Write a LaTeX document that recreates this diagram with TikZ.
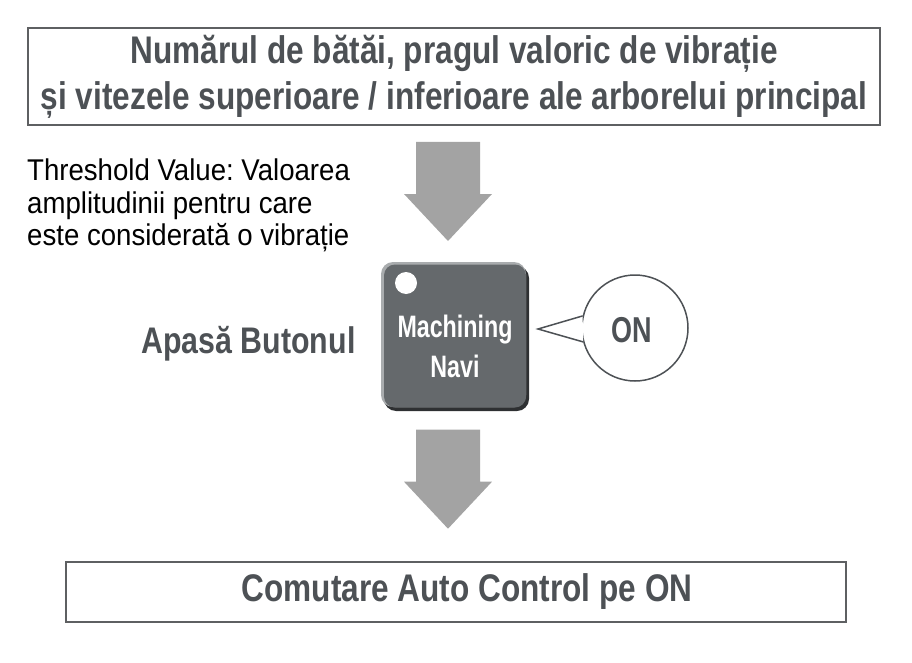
\documentclass[tikz,border=0pt]{standalone}
\usepackage{fontspec}
\setmainfont{Liberation Sans}
\newfontfamily\condfont[FakeStretch=0.82]{Liberation Sans}
\newfontfamily\narrowfont[FakeStretch=0.75]{Liberation Sans}
\newfontfamily\notefont[FakeStretch=0.92]{Liberation Sans}
\usetikzlibrary{positioning}
\definecolor{textgray}{HTML}{4D5155}
\definecolor{framegray}{HTML}{5E6062}
\definecolor{arrowgray}{HTML}{A3A3A3}
\definecolor{buttongray}{HTML}{65696C}
\definecolor{rimgray}{HTML}{A9ACAE}
\definecolor{shadowgray}{HTML}{2E3032}
\frenchspacing
\tikzset{
	framebox/.style={draw=framegray, line width=2pt, fill=white, inner sep=0pt},
	headtext/.style={font=\condfont\bfseries\fontsize{38.5}{46}\selectfont, text=textgray},
	bigarrow/.pic={\fill[arrowgray] (-32,0) -- (32,0) -- (32,52) -- (44,52) -- (0,99) -- (-44,52) -- (-32,52) -- cycle;}
}
\begin{document}
\begin{tikzpicture}[x=1pt,y=-1pt]
	\useasboundingbox (0,0) rectangle (912,663);
	% top box
	\node [framebox, minimum width=852pt, minimum height=97pt, align=center, headtext] (params) at (454,76.5)
		{Numărul de bătăi, pragul valoric de vibrație\\și vitezele superioare / inferioare ale arborelui principal};
	\node [anchor=north west, align=left, inner sep=0pt, font=\notefont\fontsize{30}{32.5}\selectfont, text=black] (thresh) at (27,159)
		{Threshold Value: Valoarea\\amplitudinii pentru care\\este considerată o vibrație};
	\pic at ([xshift=-6pt,yshift=-16pt]params.south) {bigarrow};
	% button
	\fill [shadowgray, rounded corners=12pt] (384,266) rectangle (529,411);
	\fill [rimgray, rounded corners=12pt] (381,262) rectangle (526,407);
	\node [fill=buttongray, rounded corners=11pt, minimum width=142pt, minimum height=143pt, inner sep=0pt] (navi) at (455,336) {};
	\node [circle, fill=white, minimum size=22pt, inner sep=0pt] (lamp) at (406,283) {};
	\node [align=center, text=white, font=\narrowfont\bfseries\fontsize{31}{40}\selectfont] (navitext) at (455,346.5) {Machining\\Navi};
	\node [anchor=base east, text=textgray, font=\condfont\bfseries\fontsize{37}{40}\selectfont] (press) at (359,353) {Apasă Butonul};
	% speech bubble
	\node [circle, draw=textgray, line width=1.5pt, fill=white, minimum size=106pt, inner sep=0pt] (on) at (635,328) {};
	\coordinate (tip) at (538,329);
	\draw [draw=textgray, line width=1.5pt, fill=white, line join=miter] (on.167) -- (tip) -- (on.195);
	\node [text=textgray, font=\narrowfont\bfseries\fontsize{36}{36}\selectfont] (ontext) at (632,330) {ON};
	\pic at ([xshift=-7pt,yshift=-22pt]navi.south) {bigarrow};
	% bottom box
	\node [framebox, minimum width=780pt, minimum height=60pt] (result) at (456,592) {};
	\node [headtext] (resulttext) at (467,592) {Comutare Auto Control pe ON};
\end{tikzpicture}
\end{document}
